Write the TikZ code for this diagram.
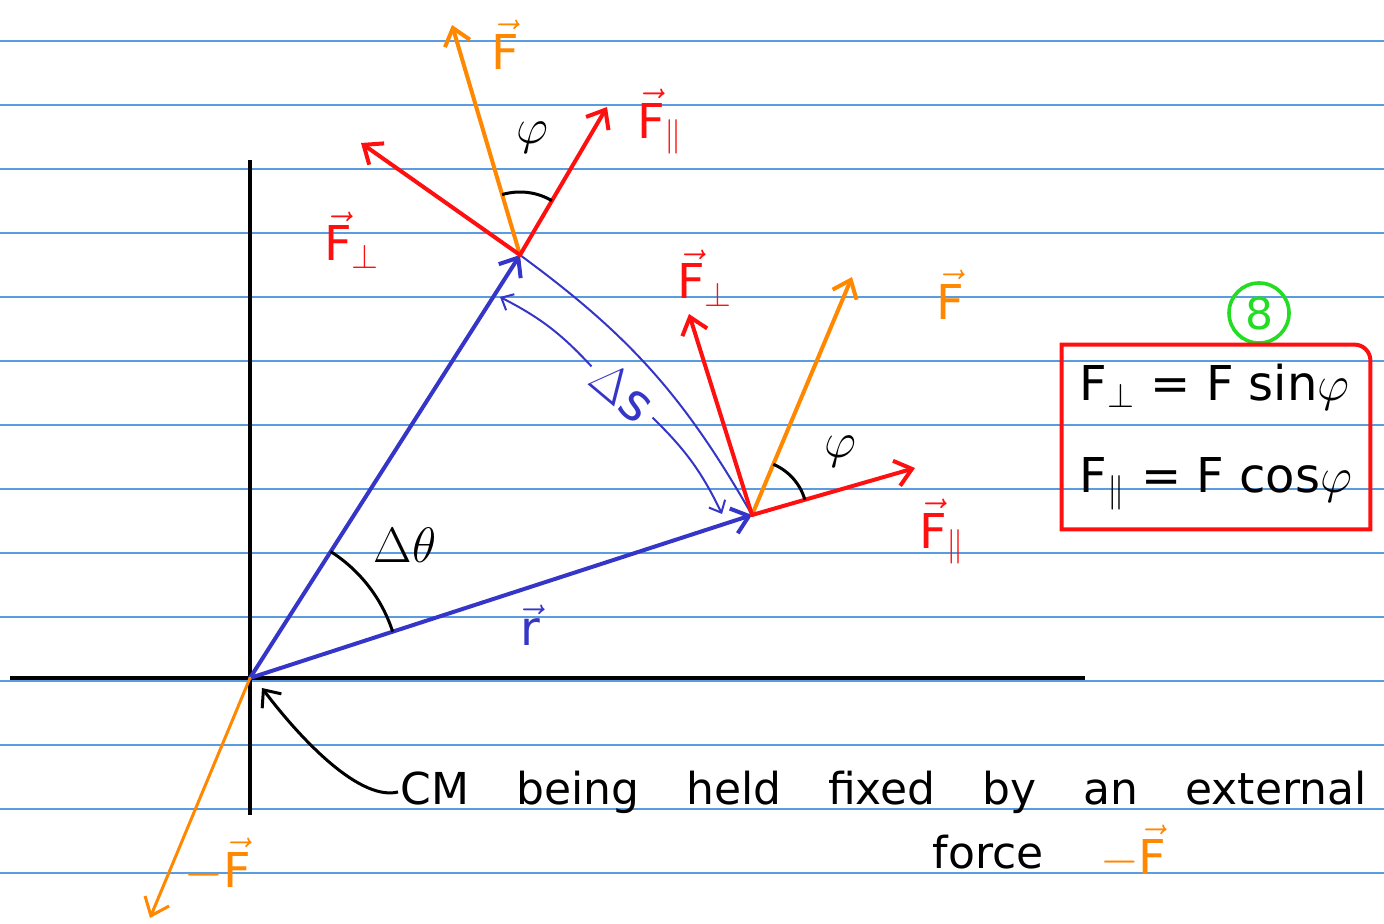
\documentclass[tikz,border=0pt]{standalone}
\usepackage{fontspec}
\setmainfont{DejaVu Sans}
\usetikzlibrary{arrows.meta,positioning,angles}

\definecolor{rulecol}{HTML}{5B9BE0}
\definecolor{vecblue}{HTML}{3535C8}
\definecolor{forceorange}{HTML}{FF8800}
\definecolor{forcered}{HTML}{FF1010}
\definecolor{markgreen}{HTML}{22DD22}

\begin{document}
\begin{tikzpicture}[
        x=0.5pt, y=-0.5pt,
        font=\fontsize{24}{28}\selectfont,
        tip/.style={-{Straight Barb[length=8pt,width=13pt]}},
        vec/.style={tip, line width=2pt, line cap=round},
        rvec/.style={vec, vecblue},
        fvec/.style={vec, forceorange},
        pvec/.style={vec, forcered},
        axis/.style={line width=2pt},
        thinblue/.style={vecblue, line width=1pt},
        thintip/.style={-{Straight Barb[length=5pt,width=9pt]}},
        angarc/.style={draw, line width=1.5pt},
        lab/.style={inner sep=1pt}
    ]
    \useasboundingbox (0,0) rectangle (1384,924);

    % ruled paper
    \foreach \y in {41,105,...,873}
        \draw[rulecol, line width=0.8pt] (0,\y) -- (1384,\y);

    \coordinate (O) at (250,678);
    \coordinate (A) at (520,255);
    \coordinate (B) at (752,515);
    \coordinate (xl) at (10,678);
    \coordinate (xr) at (1085,678);
    \coordinate (yt) at (250,160);
    \coordinate (yb) at (250,815);
    \coordinate (FA) at (452,25);
    \coordinate (FparA) at (607,107);
    \coordinate (FperpA) at (361,143);
    \coordinate (FB) at (852,277);
    \coordinate (FparB) at (915,468);
    \coordinate (FperpB) at (689,314);
    \coordinate (mF) at (150,918);
    \coordinate (dsA) at (500,297);
    \coordinate (dsB) at (722,514);
    \coordinate (Ohook) at (262,688);

    % axes
    \draw[axis] (xl) -- (xr);
    \draw[axis] (yt) -- (yb);

    % position vectors and path
    \draw[rvec] (O) -- (A);
    \draw[rvec] (O) -- (B);
    \draw[thinblue] (A) to[bend left=12] (B);

    \node[vecblue, rotate=-40, font=\fontsize{26}{30}\selectfont] (ds) at (622,392) {$\Delta\mathrm{s}$};
    \draw[thinblue, thintip] (ds.west) to[bend right=10] (dsA);
    \draw[thinblue, thintip] (ds.east) to[bend left=10] (dsB);

    % forces at A
    \draw[fvec] (A) -- (FA);
    \draw[pvec] (A) -- (FparA);
    \draw[pvec] (A) -- (FperpA);
    % forces at B
    \draw[fvec] (B) -- (FB);
    \draw[pvec] (B) -- (FparB);
    \draw[pvec] (B) -- (FperpB);
    % reaction at CM
    \draw[fvec, line width=1.5pt] (O) -- (mF);

    % angles
    \pic[angarc, angle radius=31.5pt] {angle = FparA--A--FA};
    \pic[angarc, angle radius=27.5pt] {angle = FparB--B--FB};
    \pic[angarc, angle radius=75pt] {angle = B--O--A};

    % labels
    \node[lab, forceorange] (lFA) at (505,45) {$\vec{\mathrm{F}}$};
    \node[lab, forcered] (lFparA) at (660,122) {$\vec{\mathrm{F}}_{\parallel}$};
    \node[lab, forcered] (lFperpA) at (352,240) {$\vec{\mathrm{F}}_{\perp}$};
    \node[lab] (lphiA) at (532,138) {$\varphi$};
    \node[lab, forcered] (lFperpB) at (705,278) {$\vec{\mathrm{F}}_{\perp}$};
    \node[lab, forceorange] (lFB) at (950,295) {$\vec{\mathrm{F}}$};
    \node[lab, forcered] (lFparB) at (942,532) {$\vec{\mathrm{F}}_{\parallel}$};
    \node[lab] (lphiB) at (840,452) {$\varphi$};
    \node[lab] (ltheta) at (405,545) {$\Delta\theta$};
    \node[lab, vecblue] (lr) at (530,625) {$\vec{\mathrm{r}}$};
    \node[lab, forceorange] (lmF) at (218,865) {$-\vec{\mathrm{F}}$};

    % note on the CM
    \node[lab, anchor=west, font=\fontsize{22}{26}\selectfont] (cm) at (398,792)
        {\spaceskip=23.5pt CM being held fixed by an external};
    \node[lab, font=\fontsize{22}{26}\selectfont] (force) at (988,852) {force};
    \node[lab, forceorange, right=26pt of force] (lmF2) {$-\vec{\mathrm{F}}$};
    \draw[line width=1.5pt, -{Straight Barb[length=7pt,width=12pt]}]
        (cm.west) .. controls +(-42,10) and +(30,40) .. (Ohook);

    % summary box
    \node[circle, draw=markgreen, text=markgreen, line width=1.8pt, minimum size=30pt,
        inner sep=0pt, font=\fontsize{22}{26}\selectfont] (eight) at (1259,313) {8};
    \node[minimum width=154pt, minimum height=92pt, align=left] (eqs) at (1216,437)
        {F$_{\perp}$ = F sin$\varphi$\\[18pt]F$_{\parallel}$ = F cos$\varphi$};
    \draw[forcered, line width=2pt] (eqs.north west) -- ([xshift=-8pt]eqs.north east)
        to[out=0,in=90] ([yshift=-8pt]eqs.north east) -- (eqs.south east)
        -- (eqs.south west) -- cycle;
\end{tikzpicture}
\end{document}
